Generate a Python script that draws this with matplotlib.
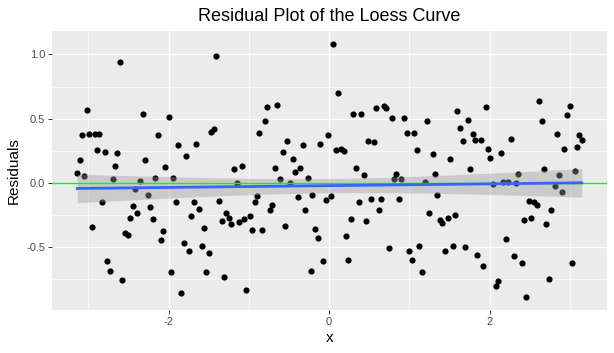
import numpy as np
import matplotlib
matplotlib.use('Agg')
import matplotlib.pyplot as plt

# Values
x = [-3.14, -3.11, -3.08, -3.05, -3.02, -2.99, -2.96, -2.92, -2.89, -2.87,
     -2.83, -2.80, -2.77, -2.73, -2.70, -2.67, -2.64, -2.61, -2.58, -2.54,
     -2.51, -2.48, -2.45, -2.42, -2.39, -2.36, -2.32, -2.29, -2.26, -2.23,
     -2.20, -2.17, -2.13, -2.10, -2.07, -2.04, -2.00, -1.97, -1.94, -1.91,
     -1.88, -1.85, -1.81, -1.78, -1.75, -1.72, -1.69, -1.66, -1.62, -1.59,
     -1.56, -1.53, -1.50, -1.47, -1.44, -1.41, -1.37, -1.34, -1.31, -1.28,
     -1.25, -1.22, -1.19, -1.15, -1.12, -1.09, -1.06, -1.03, -0.99, -0.96,
     -0.93, -0.90, -0.87, -0.84, -0.80, -0.77, -0.74, -0.71, -0.68, -0.65,
     -0.61, -0.58, -0.55, -0.52, -0.49, -0.45, -0.42, -0.39, -0.36, -0.33,
     -0.30, -0.26, -0.23, -0.21, -0.17, -0.14, -0.11, -0.08, -0.04, -0.01,
     0.02, 0.05, 0.08, 0.11, 0.15, 0.18, 0.21, 0.24, 0.27, 0.30,
     0.33, 0.37, 0.40, 0.43, 0.46, 0.49, 0.52, 0.56, 0.59, 0.62,
     0.65, 0.68, 0.71, 0.75, 0.78, 0.81, 0.84, 0.87, 0.90, 0.93,
     0.97, 1.00, 1.03, 1.06, 1.10, 1.12, 1.16, 1.19, 1.22, 1.25,
     1.29, 1.32, 1.35, 1.38, 1.41, 1.44, 1.48, 1.51, 1.54, 1.57,
     1.60, 1.63, 1.67, 1.70, 1.73, 1.76, 1.79, 1.82, 1.85, 1.89,
     1.92, 1.95, 1.98, 2.01, 2.04, 2.08, 2.11, 2.14, 2.17, 2.21,
     2.23, 2.27, 2.30, 2.33, 2.36, 2.40, 2.43, 2.46, 2.49, 2.52,
     2.55, 2.59, 2.62, 2.65, 2.68, 2.71, 2.74, 2.77, 2.81, 2.84,
     2.87, 2.90, 2.93, 2.96, 3.00, 3.03, 3.06, 3.09, 3.12, 3.15]

residuals = [0.078, 0.179, 0.373, 0.052, 0.565, 0.378, -0.345, 0.381, 0.256, 0.381,
             -0.150, 0.241, -0.609, -0.684, 0.031, 0.135, 0.231, 0.938, -0.754, -0.386,
             -0.404, -0.272, -0.179, -0.047, -0.233, 0.013, 0.534, 0.179, -0.096, -0.184,
             -0.277, 0.041, 0.370, -0.440, -0.373, 0.122, 0.510, -0.694, 0.041, -0.150,
             0.293, -0.852, -0.466, 0.207, -0.528, -0.256, -0.150, 0.306, -0.202, -0.487,
             -0.347, -0.689, -0.541, 0.394, 0.420, 0.987, -0.142, -0.295, -0.731, -0.231,
             -0.272, -0.316, 0.111, 0.003, -0.303, 0.132, -0.282, -0.834, -0.259, -0.363,
             -0.150, -0.101, 0.389, -0.368, 0.484, 0.588, -0.210, -0.168, 0.114, 0.606,
             0.031, 0.244, -0.332, 0.324, 0.003, 0.184, 0.083, -0.111, 0.114, 0.293,
             -0.212, 0.041, -0.684, -0.096, -0.360, -0.430, 0.301, -0.604, -0.135, 0.370,
             -0.098, 1.083, 0.256, 0.702, 0.262, 0.251, -0.415, -0.598, -0.282, 0.534,
             0.119, -0.148, 0.536, 0.062, -0.293, 0.324, -0.122, 0.316, 0.585, -0.212,
             -0.124, 0.598, 0.585, -0.508, 0.503, 0.028, 0.070, -0.122, 0.028, 0.505,
             0.389, -0.528, -0.601, 0.389, 0.254, -0.490, -0.694, 0.005, 0.482, -0.233,
             0.225, 0.070, -0.093, -0.290, -0.311, -0.526, -0.272, 0.189, -0.487, -0.249,
             0.560, 0.430, 0.324, -0.500, 0.487, 0.109, 0.378, 0.337, -0.557, 0.332,
             -0.645, 0.591, 0.267, 0.194, -0.008, -0.803, -0.759, 0.236, 0.005, -0.438,
             0.008, 0.342, -0.570, 0.000, 0.067, -0.624, -0.288, -0.889, -0.142, -0.275,
             -0.150, -0.174, 0.635, 0.479, 0.111, -0.321, -0.746, -0.212, -0.021, 0.378,
             0.060, -0.067, 0.267, 0.528, 0.598, -0.624, 0.093, 0.282, 0.373, 0.337]

xs = np.array(x)
ys = np.array(residuals)

# linear fit with 95% confidence band (like geom_smooth(method="lm"))
n = len(xs)
b1, b0 = np.polyfit(xs, ys, 1)
grid = np.linspace(xs.min(), xs.max(), 80)
fit = b0 + b1 * grid
resid = ys - (b0 + b1 * xs)
s = np.sqrt(np.sum(resid ** 2) / (n - 2))
se = s * np.sqrt(1 / n + (grid - xs.mean()) ** 2 / np.sum((xs - xs.mean()) ** 2))
band = 1.972 * se

plt.rcParams['font.family'] = ['Liberation Sans', 'DejaVu Sans']

fig = plt.figure(figsize=(6.14, 3.53), dpi=100)
ax = fig.add_axes([0.0847, 0.1218, 0.9039, 0.7902])
ax.set_facecolor('#EBEBEB')

ax.scatter(xs, ys, s=20, color='black', linewidths=0, zorder=3)
ax.fill_between(grid, fit - band, fit + band, color='#999999', alpha=0.4,
                linewidth=0, zorder=4)
ax.axhline(0, color='#00FF00', linewidth=1.0, zorder=5)
ax.plot(grid, fit, color='#3366FF', linewidth=2.0, zorder=6)

# limits with ggplot-like 5% expansion
xr = xs.max() - xs.min()
yr = ys.max() - ys.min()
ax.set_xlim(xs.min() - 0.05 * xr, xs.max() + 0.05 * xr)
ax.set_ylim(ys.min() - 0.05 * yr, ys.max() + 0.05 * yr)

ax.set_xticks([-2, 0, 2])
ax.set_xticklabels(['-2', '0', '2'])
ax.set_xticks([-3, -1, 1, 3], minor=True)
ax.set_yticks([-0.5, 0.0, 0.5, 1.0])
ax.set_yticklabels(['-0.5', '0.0', '0.5', '1.0'])
ax.set_yticks([-0.75, -0.25, 0.25, 0.75], minor=True)
ax.grid(which='major', color='white', linewidth=1.0)
ax.grid(which='minor', color='white', linewidth=0.5)
ax.set_axisbelow(True)
for sp in ax.spines.values():
    sp.set_visible(False)
ax.tick_params(which='major', length=2.8, width=0.7, color='#333333',
               labelsize=8, labelcolor='#4D4D4D', pad=2)
ax.tick_params(which='minor', length=0)

ax.set_xlabel('x', fontsize=11, labelpad=3)
ax.set_ylabel('Residuals', fontsize=11, labelpad=4)
ax.set_title('Residual Plot of the Loess Curve', fontsize=13, pad=7)

fig.savefig('out.png', dpi=100)
